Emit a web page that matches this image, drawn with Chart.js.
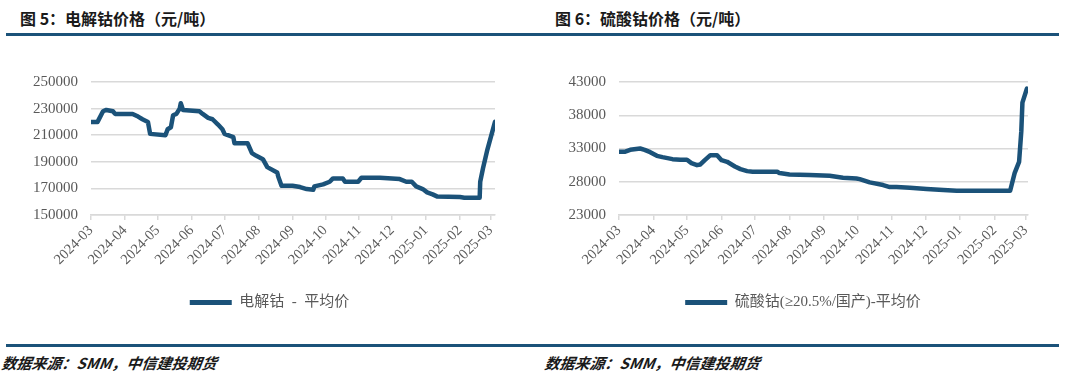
<!DOCTYPE html>
<html>
<head>
<meta charset="utf-8">
<script src="https://cdn.jsdelivr.net/npm/chart.js@4/dist/chart.umd.min.js"></script>
<style>
  html, body { margin: 0; padding: 0; background: #fff; }
  body { width: 1080px; height: 376px; position: relative; overflow: hidden; }
  .title { position: absolute; top: 6px; font: bold 16px "Noto Sans CJK SC", sans-serif; color: #1a1a1a; white-space: nowrap; }
  .rule { position: absolute; left: 6px; width: 1053px; height: 3px; background: #1b5279; }
  .source { position: absolute; top: 352px; font: italic bold 15px "Noto Sans CJK SC", sans-serif; color: #1a1a1a; white-space: nowrap; transform: skewX(-8deg); }
  .box { position: absolute; top: 60px; height: 260px; }
</style>
</head>
<body>
<div class="title" style="left:20px">图 5：电解钴价格（元/吨）</div>
<div class="title" style="left:555px">图 6：硫酸钴价格（元/吨）</div>
<div class="rule" style="top:33px"></div>

<div class="box" style="left:0;width:540px"><canvas id="chart0"></canvas></div>
<div class="box" style="left:540px;width:540px"><canvas id="chart1"></canvas></div>

<div class="rule" style="top:344px"></div>
<div class="source" style="left:2px">数据来源：SMM，中信建投期货</div>
<div class="source" style="left:545px">数据来源：SMM，中信建投期货</div>

<script>
// days counted from 2024-03-01
const monthDays = [0, 31, 61, 92, 122, 153, 184, 214, 245, 275, 306, 337, 365];
const monthLabels = ['2024-03', '2024-04', '2024-05', '2024-06', '2024-07', '2024-08', '2024-09',
  '2024-10', '2024-11', '2024-12', '2025-01', '2025-02', '2025-03'];

// 电解钴 - 平均价
const cobaltDays = [0, 6, 11, 14, 20, 22, 38, 43, 47, 52, 54, 68, 70, 73, 75, 78, 81, 82, 84, 99,
  102, 107, 111, 116, 120, 122, 130, 131, 143, 147, 151, 157, 161, 170, 171, 174, 184, 191, 197,
  203, 204, 212, 218, 221, 230, 232, 244, 247, 264, 282, 288, 293, 297, 303, 307, 312, 316, 337,
  341, 355, 355.5, 358, 362, 366, 369];
const cobaltPrices = [220000, 220000, 228000, 229000, 228000, 226000, 226000, 224000, 222000, 220000,
  211000, 210000, 214500, 216000, 225000, 226000, 230000, 234000, 229000, 228000,
  226000, 223000, 222000, 218000, 214500, 211000, 208500, 204000, 204000, 196500, 194500, 192000,
  186000, 182000, 179000, 172000, 172000, 171000, 169500, 169000, 171500, 173000, 175000, 177500,
  177500, 175000, 175000, 178000, 178000, 177000, 175000, 175000, 171500, 169500, 167000, 165500,
  164000, 163500, 163000, 163000, 175000, 185000, 199000, 211000, 220000];

// 硫酸钴(≥20.5%/国产)-平均价
const sulfateDays = [0, 5, 10, 19, 23, 28, 34, 39, 48, 55, 61, 65, 70, 73, 77, 82, 88, 92, 97, 104,
  109, 115, 120, 142, 144, 153, 171, 189, 201, 213, 216, 225, 237, 243, 249, 261, 276, 291, 303,
  351, 355, 359, 361, 362, 366];
const sulfatePrices = [32500, 32500, 32800, 33000, 32800, 32450, 31900, 31700, 31400, 31300, 31300,
  30800, 30500, 30600, 31250, 32000, 32000, 31250, 31000, 30300, 29900, 29600, 29500, 29500, 29300,
  29100, 29000, 28900, 28600, 28500, 28400, 27900, 27500, 27200, 27200, 27100, 26900, 26750, 26650,
  26650, 29300, 31000, 35600, 39900, 42000];

const cobaltTicks = [150000, 170000, 190000, 210000, 230000, 250000];
const sulfateTicks = [23000, 28000, 33000, 38000, 43000];

const lineColor = '#1b5279';
const gridColor = '#d9d9d9';
const tickColor = '#595959';
const serifFont = "'Liberation Serif', 'DejaVu Serif', serif";

// the legend is centred under the whole panel, not only the plot
const shiftLegend = {
  id: 'shiftLegend',
  afterLayout(chart, args, opts) {
    chart.legend.left += opts.dx;
    chart.legend.right += opts.dx;
  }
};

function makeChart(id, label, days, prices, yTicks, yWidth, padTop, padRight, xMax, legendDx) {
  const ctx = document.getElementById(id).getContext('2d');
  return new Chart(ctx, {
    type: 'line',
    data: {
      datasets: [{
        label: label,
        data: days.map((d, i) => ({ x: d, y: prices[i] })),
        borderColor: lineColor,
        backgroundColor: lineColor,
        borderWidth: 4.5,
        pointRadius: 0,
        tension: 0,
        borderJoinStyle: 'round',
        borderCapStyle: 'round'
      }]
    },
    plugins: [shiftLegend],
    options: {
      responsive: true,
      maintainAspectRatio: false,
      animation: false,
      layout: { padding: { top: padTop, right: padRight, left: 0, bottom: 0 } },
      plugins: {
        shiftLegend: { dx: legendDx },
        tooltip: { enabled: false },
        legend: {
          display: true,
          position: 'bottom',
          labels: {
            boxWidth: 42,
            boxHeight: 5,
            useBorderRadius: true,
            borderRadius: 2.5,
            padding: 10,
            color: tickColor,
            font: { family: "'Liberation Serif', 'Noto Sans CJK SC', serif", size: 15 },
            generateLabels: chart => chart.data.datasets.map((ds, i) => ({
              text: ds.label,
              fillStyle: lineColor,
              strokeStyle: lineColor,
              lineWidth: 0,
              fontColor: tickColor,
              datasetIndex: i
            }))
          }
        }
      },
      scales: {
        x: {
          type: 'linear',
          min: 0,
          max: xMax,
          afterBuildTicks: scale => {
            scale.ticks = monthDays.map(v => ({ value: v }));
          },
          afterFit: scale => { scale.height = 70; },
          ticks: {
            autoSkip: false,
            minRotation: 45,
            maxRotation: 45,
            color: tickColor,
            font: { family: serifFont, size: 14.5 },
            padding: 2,
            callback: (v, i) => monthLabels[i]
          },
          grid: { drawOnChartArea: false, color: gridColor, tickLength: 5, lineWidth: 1.5 },
          border: { color: gridColor, width: 1.5 }
        },
        y: {
          min: yTicks[0],
          max: yTicks[yTicks.length - 1],
          afterBuildTicks: scale => {
            scale.ticks = yTicks.map(v => ({ value: v }));
          },
          afterFit: scale => { scale.width = yWidth; },
          ticks: { color: tickColor, font: { family: serifFont, size: 15 }, padding: 13, callback: v => String(v) },
          grid: { color: gridColor, lineWidth: 1.5, drawTicks: false },
          border: { display: false }
        }
      }
    }
  });
}

makeChart('chart0', '电解钴  -  平均价', cobaltDays, cobaltPrices, cobaltTicks, 91, 16, 45, 369, 22);
makeChart('chart1', '硫酸钴(≥20.5%/国产)-平均价', sulfateDays, sulfatePrices, sulfateTicks, 79, 15, 52, 367, 19);
</script>
</body>
</html>
